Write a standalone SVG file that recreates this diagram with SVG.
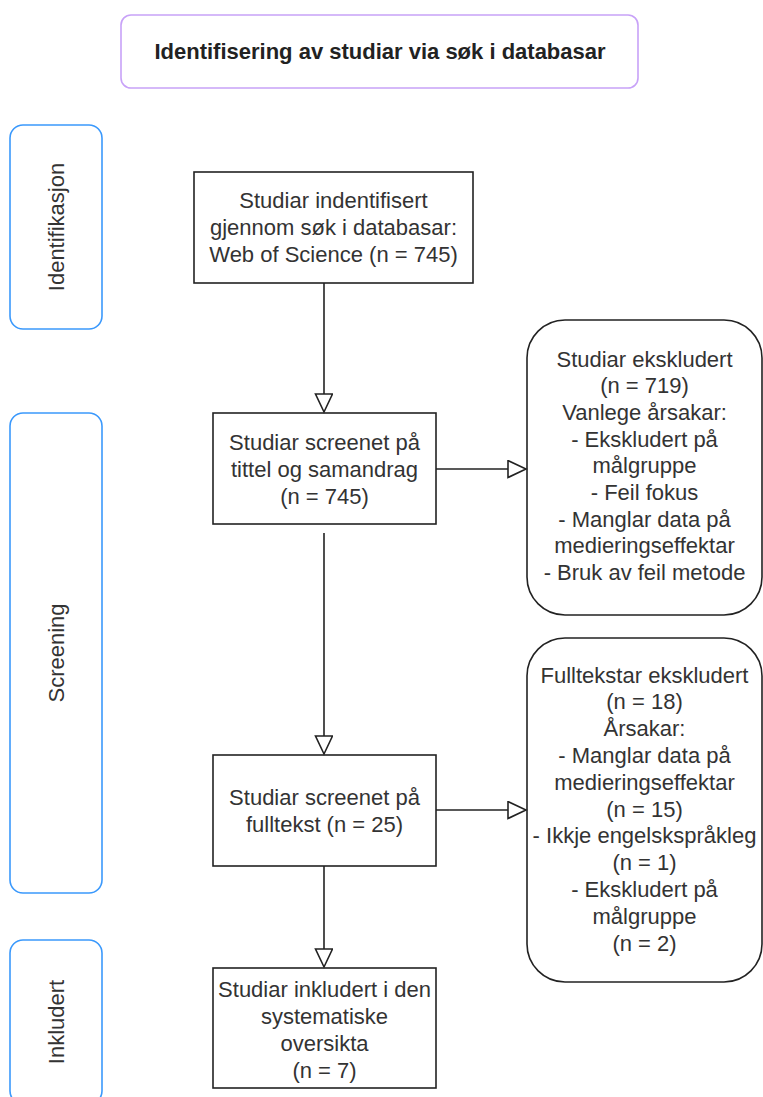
<svg xmlns="http://www.w3.org/2000/svg" width="763" height="1097" viewBox="0 0 763 1097">
<style>
.lane{fill:#fff;stroke:#3b99fc;stroke-width:1.6}
.title{fill:#fff;stroke:#c8a2f8;stroke-width:1.6}
.box{fill:#fff;stroke:#222;stroke-width:1.6}
.t{font-family:"Liberation Sans",Arial,sans-serif;font-size:22px;fill:#333;text-anchor:middle;dominant-baseline:central}
.tb{font-family:"Liberation Sans",Arial,sans-serif;font-size:22px;font-weight:bold;fill:#222;text-anchor:middle;dominant-baseline:central}
.edge{fill:none;stroke:#222;stroke-width:1.6}
</style>
<defs>
<marker id="arr" markerUnits="userSpaceOnUse" markerWidth="22" markerHeight="20" refX="19" refY="9" orient="auto" viewBox="0 0 22 20">
<path d="M1,0.5 L19,9 L1,17.5 Z" fill="#fff" stroke="#222" stroke-width="1.6"/>
</marker>
</defs>
<g id="title">
<rect class="title" x="121" y="15" width="517" height="73" rx="10"/>
<text class="tb" x="380" y="51">Identifisering av studiar via søk i databasar</text>
</g>
<g id="lane-identifikasjon">
<rect class="lane" x="10" y="125" width="92" height="204" rx="13"/>
<text class="t" transform="translate(56,227) rotate(-90)">Identifikasjon</text>
</g>
<g id="lane-screening">
<rect class="lane" x="10" y="413" width="92" height="480" rx="13"/>
<text class="t" transform="translate(56,653) rotate(-90)">Screening</text>
</g>
<g id="lane-inkludert">
<rect class="lane" x="10" y="940" width="92" height="164" rx="13"/>
<text class="t" transform="translate(56,1022) rotate(-90)">Inkludert</text>
</g>
<g id="identified">
<rect class="box" x="194" y="172" width="279" height="111"/>
<text class="t" x="333.5" y="200">Studiar indentifisert</text>
<text class="t" x="333.5" y="227">gjennom søk i databasar:</text>
<text class="t" x="333.5" y="254">Web of Science (n = 745)</text>
</g>
<g id="screened-title">
<rect class="box" x="213" y="413" width="223" height="111"/>
<text class="t" x="324.5" y="442">Studiar screenet på</text>
<text class="t" x="324.5" y="469">tittel og samandrag</text>
<text class="t" x="324.5" y="496">(n = 745)</text>
</g>
<g id="excluded-studies">
<rect class="box" x="527" y="320" width="235" height="295" rx="38"/>
<text class="t" x="644.5" y="359">Studiar ekskludert</text>
<text class="t" x="644.5" y="385.7">(n = 719)</text>
<text class="t" x="644.5" y="412.4">Vanlege årsakar:</text>
<text class="t" x="644.5" y="439.1">- Ekskludert på</text>
<text class="t" x="644.5" y="465.8">målgruppe</text>
<text class="t" x="644.5" y="492.5">- Feil fokus</text>
<text class="t" x="644.5" y="519.2">- Manglar data på</text>
<text class="t" x="644.5" y="545.9">medieringseffektar</text>
<text class="t" x="644.5" y="572.6">- Bruk av feil metode</text>
</g>
<g id="screened-fulltext">
<rect class="box" x="213" y="755" width="223" height="111"/>
<text class="t" x="324.5" y="797">Studiar screenet på</text>
<text class="t" x="324.5" y="824">fulltekst (n = 25)</text>
</g>
<g id="excluded-fulltext">
<rect class="box" x="527" y="638" width="235" height="344" rx="38"/>
<text class="t" x="644.5" y="675">Fulltekstar ekskludert</text>
<text class="t" x="644.5" y="701.8">(n = 18)</text>
<text class="t" x="644.5" y="728.6">Årsakar:</text>
<text class="t" x="644.5" y="755.4">- Manglar data på</text>
<text class="t" x="644.5" y="782.2">medieringseffektar</text>
<text class="t" x="644.5" y="809">(n = 15)</text>
<text class="t" x="644.5" y="835.8">- Ikkje engelskspråkleg</text>
<text class="t" x="644.5" y="862.6">(n = 1)</text>
<text class="t" x="644.5" y="889.4">- Ekskludert på</text>
<text class="t" x="644.5" y="916.2">målgruppe</text>
<text class="t" x="644.5" y="943">(n = 2)</text>
</g>
<g id="included">
<rect class="box" x="213" y="968" width="223" height="120"/>
<text class="t" x="324.5" y="989">Studiar inkludert i den</text>
<text class="t" x="324.5" y="1016">systematiske</text>
<text class="t" x="324.5" y="1043">oversikta</text>
<text class="t" x="324.5" y="1070">(n = 7)</text>
</g>
<g id="connectors">
<path class="edge" d="M324,283 V412" marker-end="url(#arr)"/>
<path class="edge" d="M436,469 H526" marker-end="url(#arr)"/>
<path class="edge" d="M324,533 V754" marker-end="url(#arr)"/>
<path class="edge" d="M436,810 H526" marker-end="url(#arr)"/>
<path class="edge" d="M324,866 V967" marker-end="url(#arr)"/>
</g>
</svg>
